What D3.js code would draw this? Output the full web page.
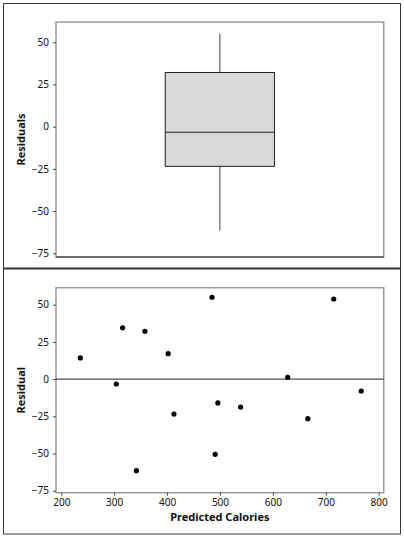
<!DOCTYPE html>
<html><head><meta charset="utf-8">
<script src="https://cdn.jsdelivr.net/npm/d3@7"></script>
<style>
html,body{margin:0;padding:0;background:#fff;}
svg{display:block;}
.tick text{font-family:"Noto Sans",sans-serif;font-size:10px;fill:#111;}
.title{font-family:"Noto Sans",sans-serif;font-size:11px;font-weight:bold;fill:#111;}
</style></head>
<body>
<svg id="c" width="404" height="538"></svg>
<script>
// Data
const predictedCalories = [236, 304, 316, 342, 358, 402, 413, 485, 491, 496, 539, 628, 666, 715, 767];
const residuals        = [14.2, -3.3, 34.5, -61.5, 32.1, 17.1, -23.5, 55.0, -50.5, -16.0, -18.8, 1.2, -26.6, 53.8, -8.0];
const yTicks = [-75, -50, -25, 0, 25, 50];
const xTicks = [200, 300, 400, 500, 600, 700, 800];

const svg = d3.select("#c");

// Minitab-style quartiles ((n+1)p positions)
function mtQuantile(sorted, p) {
  const pos = (sorted.length + 1) * p;
  const lo = Math.floor(pos), frac = pos - lo;
  const a = sorted[Math.max(0, Math.min(sorted.length - 1, lo - 1))];
  const b = sorted[Math.max(0, Math.min(sorted.length - 1, lo))];
  return a + frac * (b - a);
}
const sorted = residuals.slice().sort((a, b) => a - b);
const q1 = mtQuantile(sorted, 0.25), med = mtQuantile(sorted, 0.5), q3 = mtQuantile(sorted, 0.75);
const iqr = q3 - q1;
const wLo = d3.min(sorted.filter(v => v >= q1 - 1.5 * iqr));
const wHi = d3.max(sorted.filter(v => v <= q3 + 1.5 * iqr));

// Outer border and divider
svg.append("rect").attr("x", 3.5).attr("y", 3.5).attr("width", 397).attr("height", 530.5)
  .attr("fill", "none").attr("stroke", "#3a3a3a").attr("stroke-width", 1);
svg.append("line").attr("x1", 3).attr("x2", 401).attr("y1", 268.5).attr("y2", 268.5)
  .attr("stroke", "#333").attr("stroke-width", 2);

function yAxis(g, yScale) {
  const ax = d3.axisLeft(yScale).tickValues(yTicks).tickSize(3).tickPadding(4).tickFormat(d3.format("d"));
  g.call(ax);
  g.select(".domain").remove();
  g.selectAll(".tick line").attr("stroke", "#444");
}

// ---------- Top: boxplot ----------
const L = 56, R = 383.7;
const yTop = d3.scaleLinear().domain([-77.2, 62.0]).range([257, 22]);
const xBox = d3.scaleBand().domain(["Residuals"]).range([L, R]).paddingInner(0).paddingOuter(1.0);
const gTop = svg.append("g");
gTop.append("rect").attr("x", L).attr("y", 22).attr("width", R - L).attr("height", 257 - 22)
  .attr("fill", "#fff").attr("stroke", "#9a9a9a").attr("stroke-width", 1.5);
gTop.append("line").attr("x1", L).attr("x2", R).attr("y1", 257).attr("y2", 257)
  .attr("stroke", "#222").attr("stroke-width", 1.2);
gTop.append("g").attr("transform", `translate(${L},0)`).call(g => yAxis(g, yTop));

const bx = xBox("Residuals"), bw = xBox.bandwidth(), cx = bx + bw / 2;
gTop.append("line").attr("x1", cx).attr("x2", cx).attr("y1", yTop(wHi)).attr("y2", yTop(q3))
  .attr("stroke", "#8a8a8a").attr("stroke-width", 1.6);
gTop.append("line").attr("x1", cx).attr("x2", cx).attr("y1", yTop(q1)).attr("y2", yTop(wLo))
  .attr("stroke", "#8a8a8a").attr("stroke-width", 1.6);
gTop.append("rect").attr("x", bx).attr("y", yTop(q3)).attr("width", bw).attr("height", yTop(q1) - yTop(q3))
  .attr("fill", "#d9d9d9").attr("stroke", "#222").attr("stroke-width", 1);
gTop.append("line").attr("x1", bx).attr("x2", bx + bw).attr("y1", yTop(med)).attr("y2", yTop(med))
  .attr("stroke", "#222").attr("stroke-width", 1);

gTop.append("text").attr("class", "title").attr("text-anchor", "middle")
  .attr("transform", `translate(25,${(22 + 257) / 2}) rotate(-90)`).text("Residuals");

// ---------- Bottom: residuals vs fits ----------
const T2 = 287.7, B2 = 492.7;
const x = d3.scaleLinear().domain([190, 809.5]).range([L, R]);
const y = d3.scaleLinear().domain([-76.3, 61.4]).range([B2, T2]);
const gBot = svg.append("g");
gBot.append("rect").attr("x", L).attr("y", T2).attr("width", R - L).attr("height", B2 - T2)
  .attr("fill", "#fff").attr("stroke", "#9a9a9a").attr("stroke-width", 1.5);
gBot.append("g").attr("transform", `translate(${L},0)`).call(g => yAxis(g, y));
const xg = gBot.append("g").attr("transform", `translate(0,${B2})`)
  .call(d3.axisBottom(x).tickValues(xTicks).tickSize(3).tickPadding(3).tickFormat(d3.format("d")));
xg.select(".domain").remove();
xg.selectAll(".tick line").attr("stroke", "#444");

gBot.append("line").attr("x1", L).attr("x2", R).attr("y1", y(0)).attr("y2", y(0))
  .attr("stroke", "#222").attr("stroke-width", 1);

gBot.selectAll("circle.pt").data(predictedCalories.map((c, i) => [c, residuals[i]]))
  .join("circle").attr("class", "pt")
  .attr("cx", d => x(d[0])).attr("cy", d => y(d[1])).attr("r", 2.6).attr("fill", "#000");

gBot.append("text").attr("class", "title").attr("text-anchor", "middle")
  .attr("transform", `translate(25,${(T2 + B2) / 2}) rotate(-90)`).text("Residual");
gBot.append("text").attr("class", "title").attr("text-anchor", "middle")
  .attr("x", (L + R) / 2).attr("y", 521).text("Predicted Calories");
</script>
</body></html>
